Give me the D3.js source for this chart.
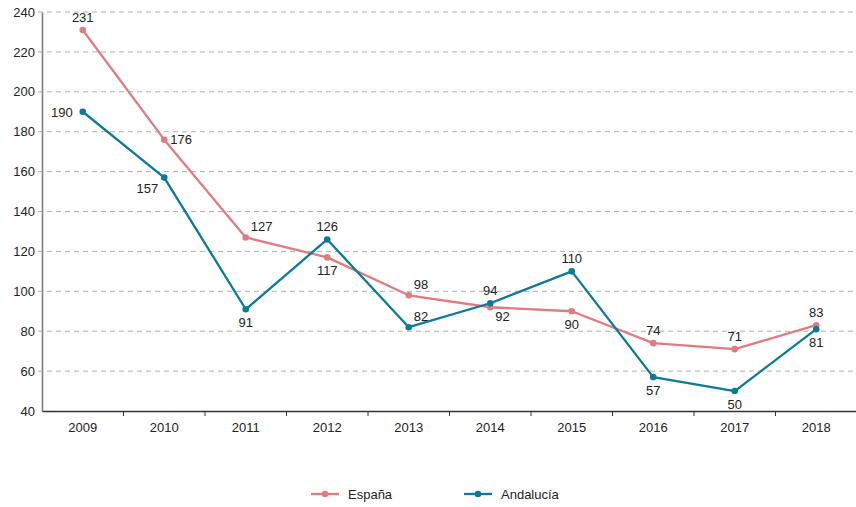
<!DOCTYPE html>
<html>
<head>
<meta charset="utf-8">
<script src="https://cdn.jsdelivr.net/npm/d3@7/dist/d3.min.js"></script>
<style>
  html, body { margin: 0; padding: 0; background: #fff; }
  svg { display: block; font-family: "Liberation Sans", Arial, Helvetica, sans-serif; }
</style>
</head>
<body>
<svg id="chart" width="856" height="507"></svg>
<script>
// Years on the horizontal axis
const years = ["2009", "2010", "2011", "2012", "2013", "2014", "2015", "2016", "2017", "2018"];
// Series values
const espana = [231, 176, 127, 117, 98, 92, 90, 74, 71, 83];
const andalucia = [190, 157, 91, 126, 82, 94, 110, 57, 50, 81];
// Y axis ticks
const yTicks = [40, 60, 80, 100, 120, 140, 160, 180, 200, 220, 240];

// Where each value label sits around its point
const espanaPlace = ["t", "r", "tr", "b", "tr", "br", "b", "t", "t", "t"];
const andaluciaPlace = ["l", "bl", "b", "t", "tr", "t", "t", "b", "b", "b"];

const svg = d3.select("#chart");
const W = 856;
const plotLeft = 42, plotRight = 857, plotTop = 12, plotBottom = 411;

const x = d3.scaleBand().domain(years).range([plotLeft, plotRight]);
const y = d3.scaleLinear().domain([40, 240]).range([plotBottom, plotTop]);
const cx = d => x(d) + x.bandwidth() / 2;

// Dashed horizontal grid
svg.append("g").selectAll("line")
  .data(yTicks.filter(t => t > 40))
  .join("line")
  .attr("x1", 38).attr("x2", W)
  .attr("y1", d => y(d)).attr("y2", d => y(d))
  .attr("stroke", "#b0b0b0").attr("stroke-width", 1)
  .attr("stroke-dasharray", "5,4");

// Y axis
const yAxis = svg.append("g")
  .attr("transform", `translate(${plotLeft},0)`)
  .call(d3.axisLeft(y).tickValues(yTicks).tickSize(0).tickPadding(7));
yAxis.select(".domain").attr("stroke", "#808080").attr("stroke-width", 1.6);
yAxis.selectAll("text").attr("font-size", 13).attr("fill", "#222")
  .attr("font-family", "Liberation Sans, Arial, sans-serif");

// X axis
const xAxis = svg.append("g")
  .attr("transform", `translate(0,${plotBottom})`)
  .call(d3.axisBottom(x).tickSize(0).tickPadding(12));
xAxis.select(".domain").attr("stroke", "#333").attr("stroke-width", 1.3);
xAxis.selectAll("text").attr("font-size", 13).attr("fill", "#222")
  .attr("font-family", "Liberation Sans, Arial, sans-serif");
// Tick marks at the category boundaries
svg.append("g").selectAll("line")
  .data(years.slice(1))
  .join("line")
  .attr("x1", d => x(d)).attr("x2", d => x(d))
  .attr("y1", plotBottom).attr("y2", plotBottom + 5)
  .attr("stroke", "#333").attr("stroke-width", 1);

const series = [
  { name: "España", values: espana, color: "#e07c80", place: espanaPlace },
  { name: "Andalucía", values: andalucia, color: "#0b7a97", place: andaluciaPlace }
];

const line = d3.line().x(d => cx(d.year)).y(d => y(d.v));

const labelPos = {
  t:  { dx: 0,   dy: -8,  anchor: "middle" },
  b:  { dx: 0,   dy: 18,  anchor: "middle" },
  l:  { dx: -10, dy: 5,   anchor: "end" },
  r:  { dx: 6,   dy: 4,   anchor: "start" },
  tr: { dx: 5,   dy: -6,  anchor: "start" },
  br: { dx: 5,   dy: 14,  anchor: "start" },
  bl: { dx: -6,  dy: 15,  anchor: "end" }
};

series.forEach(s => {
  const pts = years.map((yr, i) => ({ year: yr, v: s.values[i], place: s.place[i] }));
  const g = svg.append("g");
  g.append("path").datum(pts)
    .attr("d", line)
    .attr("fill", "none")
    .attr("stroke", s.color)
    .attr("stroke-width", 2.3)
    .attr("stroke-linejoin", "round");
  g.selectAll("circle").data(pts).join("circle")
    .attr("cx", d => cx(d.year)).attr("cy", d => y(d.v))
    .attr("r", 3.3).attr("fill", s.color);
  g.selectAll("text").data(pts).join("text")
    .attr("x", d => cx(d.year) + labelPos[d.place].dx)
    .attr("y", d => y(d.v) + labelPos[d.place].dy)
    .attr("text-anchor", d => labelPos[d.place].anchor)
    .attr("font-size", 13).attr("fill", "#222")
    .text(d => d.v);
});

// Legend
const legend = svg.append("g").attr("transform", "translate(0,494)");
const legendX = [311, 464];
series.forEach((s, i) => {
  const lg = legend.append("g").attr("transform", `translate(${legendX[i]},0)`);
  lg.append("line").attr("x1", 0).attr("x2", 28).attr("y1", 0).attr("y2", 0)
    .attr("stroke", s.color).attr("stroke-width", 2.3);
  lg.append("circle").attr("cx", 14).attr("cy", 0).attr("r", 3.3).attr("fill", s.color);
  lg.append("text").attr("x", 37).attr("y", 4.5)
    .attr("font-size", 13).attr("fill", "#222").text(s.name);
});
</script>
</body>
</html>
